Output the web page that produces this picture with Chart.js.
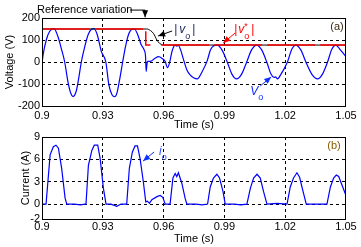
<!DOCTYPE html>
<html>
<head>
<meta charset="utf-8">
<script src="https://cdn.jsdelivr.net/npm/chart.js@4.4.1/dist/chart.umd.min.js"></script>
<style>
  html, body { margin: 0; padding: 0; background: #fff; }
  #wrap { position: relative; width: 361px; height: 247px; overflow: hidden; }
  canvas { position: absolute; left: 0; }
  #voltChart { top: 0; }
  #currChart { top: 128px; }
</style>
</head>
<body>
<div id="wrap">
  <canvas id="voltChart" width="361" height="132"></canvas>
  <canvas id="currChart" width="361" height="119"></canvas>
</div>
<script>
// axes
const timeTicks = [0.9, 0.93, 0.96, 0.99, 1.02, 1.05];
const timeTickLabels = ['0.9', '0.93', '0.96', '0.99', '1.02', '1.05'];
const voltTicks = [-200, -100, 0, 100, 200];
const currTicks = [-2, 0, 3, 6, 9];

// output voltage v_o (V)
const timeV = [0.9000, 0.9005, 0.9021, 0.9038, 0.9059, 0.9079, 0.9095, 0.9112, 0.9128, 0.9142,
  0.9153, 0.9169, 0.9181, 0.9194, 0.9211, 0.9227, 0.9244, 0.9257, 0.9273, 0.9293,
  0.9315, 0.9330, 0.9346, 0.9359, 0.9370, 0.9383, 0.9398, 0.9412, 0.9427, 0.9442,
  0.9456, 0.9472, 0.9489, 0.9504, 0.9511, 0.9514, 0.9518, 0.9521, 0.9534, 0.9558,
  0.9575, 0.9591, 0.9608, 0.9619, 0.9629, 0.9642, 0.9657, 0.9665, 0.9673, 0.9684,
  0.9698, 0.9715, 0.9731, 0.9748, 0.9766, 0.9790, 0.9815, 0.9831, 0.9848, 0.9865,
  0.9888, 0.9914, 0.9937, 0.9960, 0.9985, 1.0010, 1.0034, 1.0059, 1.0084, 1.0109,
  1.0130, 1.0145, 1.0152, 1.0162, 1.0175, 1.0211, 1.0232, 1.0252, 1.0277, 1.0302,
  1.0331, 1.0360, 1.0384, 1.0409, 1.0430, 1.0450, 1.0472, 1.0500];
const voltage = [-10, 30, 100, 140, 152, 115, 62, 0, -90, -142,
  -157, -132, -74, 0, 70, 123, 149, 152, 123, 47,
  0, -104, -150, -158, -140, -80, 0, 70, 125, 148,
  150, 125, 80, 55, 24, -43, -10, 3, 3, 17,
  24, 17, 2, -26, -5, 50, 77, 72, 75, 55,
  12, -36, -59, -72, -77, -44, 5, 55, 74, 77,
  55, 0, -55, -77, -55, 0, 55, 77, 55, 0,
  -55, -70, -68, -77, -62, 0, 57, 77, 55, 0,
  -55, -77, -55, 0, 58, 77, 55, 24];

// reference amplitude |v*_o| (V), null = gap
const timeRef = [0.9, 0.9512, 0.9512, 0.9535, 0.9550, 0.9588, 1.05];
const refVoltage = [150, 150, 77, 77, null, 77, 77];

// measured amplitude |v_o| (V)
const timeAmp = [0.9, 0.9517, 0.9535, 0.9550, 0.9567, 0.9580, 0.9595, 0.9615, 1.05];
const ampVoltage = [150, 150, 143, 130, 100, 85, 78, 77, 77];

// output current i_o (A)
const timeI = [0.9000, 0.9020, 0.9040, 0.9056, 0.9069, 0.9081, 0.9097, 0.9114, 0.9122, 0.9160,
  0.9190, 0.9212, 0.9217, 0.9229, 0.9246, 0.9258, 0.9275, 0.9287, 0.9303, 0.9316,
  0.9340, 0.9369, 0.9390, 0.9418, 0.9431, 0.9446, 0.9459, 0.9471, 0.9484, 0.9500,
  0.9512, 0.9520, 0.9530, 0.9542, 0.9567, 0.9583, 0.9596, 0.9608, 0.9632, 0.9646,
  0.9657, 0.9665, 0.9673, 0.9690, 0.9706, 0.9715, 0.9760, 0.9790, 0.9817, 0.9830,
  0.9846, 0.9863, 0.9876, 0.9893, 0.9904, 0.9950, 0.9980, 1.0011, 1.0028, 1.0044,
  1.0061, 1.0077, 1.0093, 1.0110, 1.0160, 1.0209, 1.0225, 1.0241, 1.0258, 1.0271,
  1.0288, 1.0304, 1.0350, 1.0406, 1.0423, 1.0439, 1.0452, 1.0464, 1.0481, 1.0500];
const current = [0, 0, 6.6, 7.7, 7.9, 7.5, 4.8, 0.8, 0, 0,
  -0.1, 0, 0, 5.2, 7.2, 7.9, 7.9, 6.1, 2.1, 0,
  0, -0.3, 0, 0, 4.8, 7.0, 7.8, 7.8, 6.1, 3.0,
  0.3, 0.4, 0.1, 0.6, 1.0, 1.15, 0.9, 0, 0, 3.5,
  4.1, 3.7, 4.2, 2.8, 0.8, 0, 0, -0.1, 0, 2.3,
  3.5, 4.0, 3.5, 1.7, 0, 0, -0.1, 0, 2.1, 3.5,
  4.0, 3.5, 1.7, 0, 0.1, 0, 2.3, 3.5, 4.2, 3.6,
  1.7, 0, 0, 0, 2.3, 3.5, 3.9, 3.7, 2.5, 1.15];

const FONT = '"Liberation Sans", Arial, sans-serif';
Chart.defaults.font.family = FONT;
Chart.defaults.font.size = 11;
Chart.defaults.color = '#000';

const pts = (xs, ys) => xs.map((x, i) => ({ x: x, y: ys[i] }));

// dashed grid only inside the box
const gridColor = ctx =>
  (ctx.index === 0 || ctx.index === ctx.scale.ticks.length - 1) ? 'rgba(0,0,0,0)' : '#000';

function drawLabel(ctx, x, y, parts, color) {
  ctx.save();
  ctx.fillStyle = color;
  ctx.textBaseline = 'middle';
  ctx.textAlign = 'left';
  let cx = x;
  parts.forEach(p => {
    const size = p.s ? 9 : (p.size || 12);
    ctx.font = (p.it ? 'italic ' : '') + size + 'px ' + FONT;
    const dy = p.s === 'sub' ? 6 : p.s === 'sup' ? -4 : 0;
    ctx.fillText(p.t, cx, y + dy);
    if (!p.stack) cx += ctx.measureText(p.t).width + (p.gap || 0);
  });
  ctx.restore();
}

function drawArrow(ctx, path, color) {
  ctx.save();
  ctx.strokeStyle = color;
  ctx.fillStyle = color;
  ctx.lineWidth = 1;
  ctx.beginPath();
  path.forEach((p, i) => i ? ctx.lineTo(p[0], p[1]) : ctx.moveTo(p[0], p[1]));
  ctx.stroke();
  const [x1, y1] = path[path.length - 2];
  const [x2, y2] = path[path.length - 1];
  const a = Math.atan2(y2 - y1, x2 - x1);
  ctx.beginPath();
  ctx.moveTo(x2, y2);
  ctx.lineTo(x2 - 7 * Math.cos(a) + 3 * Math.sin(a), y2 - 7 * Math.sin(a) - 3 * Math.cos(a));
  ctx.lineTo(x2 - 7 * Math.cos(a) - 3 * Math.sin(a), y2 - 7 * Math.sin(a) + 3 * Math.cos(a));
  ctx.closePath();
  ctx.fill();
  ctx.restore();
}

// box around the plot + annotations given in data units
function notesPlugin(notes) {
  return {
    id: 'notes',
    afterDraw(chart) {
      const { ctx, chartArea: a, scales } = chart;
      const P = (t, v) => [scales.x.getPixelForValue(t), scales.y.getPixelForValue(v)];
      ctx.save();
      ctx.strokeStyle = '#000';
      ctx.lineWidth = 1;
      ctx.strokeRect(a.left + 0.5, a.top + 0.5, a.right - a.left - 1, a.bottom - a.top);
      ctx.restore();
      notes.arrows.forEach(n => drawArrow(ctx, n.path.map(p => P(p[0], p[1])), n.color));
      notes.labels.forEach(n => {
        const [x, y] = P(n.at[0], n.at[1]);
        drawLabel(ctx, x, y, n.parts, n.color);
      });
    }
  };
}

function makeOptions(o) {
  return {
    responsive: false,
    animation: false,
    layout: { padding: { top: o.padTop, right: 15, left: 0, bottom: 0 } },
    plugins: { legend: { display: false }, tooltip: { enabled: false } },
    scales: {
      x: {
        type: 'linear', min: 0.9, max: 1.05,
        afterFit: s => { s.height = o.xHeight; },
        afterBuildTicks: s => { s.ticks = timeTicks.map(v => ({ value: v })); },
        ticks: { autoSkip: false, maxRotation: 0, padding: o.xPad, callback: (v, i) => timeTickLabels[i] },
        grid: { drawTicks: false, color: gridColor, lineWidth: 1 },
        border: { display: false, dash: [3, 3] },
        title: { display: true, text: 'Time (s)', padding: { top: 0, bottom: o.xTitlePad } }
      },
      y: {
        min: o.yTicks[0], max: o.yTicks[o.yTicks.length - 1],
        afterFit: s => { s.width = 42; },
        afterBuildTicks: s => { s.ticks = o.yTicks.map(v => ({ value: v })); },
        ticks: { autoSkip: false, padding: 2, callback: v => String(v) },
        grid: { drawTicks: false, color: gridColor, lineWidth: 1 },
        border: { display: false, dash: [3, 3] },
        title: { display: true, text: o.yTitle, padding: { top: o.yTitlePad, bottom: 0 } }
      }
    }
  };
}

new Chart(document.getElementById('voltChart'), {
  type: 'line',
  data: {
    datasets: [
      { data: pts(timeRef, refVoltage), borderColor: '#ff0000', borderWidth: 1.5, borderDash: [48, 5],
        pointRadius: 0, tension: 0, order: 0 },
      { data: pts(timeAmp, ampVoltage), borderColor: '#000', borderWidth: 1,
        pointRadius: 0, cubicInterpolationMode: 'monotone', order: 1 },
      { data: pts(timeV, voltage), borderColor: '#0000ff', borderWidth: 1.2,
        pointRadius: 0, cubicInterpolationMode: 'monotone', order: 2 }
    ]
  },
  options: makeOptions({ padTop: 18, xHeight: 26, xPad: 3, xTitlePad: 0.4,
    yTicks: voltTicks, yTitle: 'Voltage (V)', yTitlePad: 3.4 }),
  plugins: [notesPlugin({
    arrows: [
      { color: '#000', path: [[0.94346, 236], [0.95087, 236], [0.95087, 203]] },
      { color: '#000', path: [[0.96421, 141], [0.95729, 118]] },
      { color: '#ff0000', path: [[0.99532, 132], [0.98939, 86]] },
      { color: '#1030ff', path: [[1.00767, -109], [1.01310, -68]] }
    ],
    labels: [
      { at: [0.89753, 236], color: '#000', parts: [{ t: 'Reference variation', size: 11 }] },
      { at: [0.96520, 145], color: '#1f2a60',
        parts: [{ t: '|', gap: 2 }, { t: 'v', it: true }, { t: 'o', s: 'sub', gap: 2 }, { t: '|' }] },
      { at: [0.99483, 145], color: '#ff0000',
        parts: [{ t: '|', gap: 1 }, { t: 'v', it: true }, { t: '*', s: 'sup', stack: true },
                { t: 'o', s: 'sub', gap: 2 }, { t: '|' }] },
      { at: [1.04224, 157], color: '#3b2a10', parts: [{ t: '(a)', size: 11 }] },
      { at: [1.00273, -134], color: '#1030ff', parts: [{ t: 'V', it: true }, { t: 'o', s: 'sub' }] }
    ]
  })]
});

new Chart(document.getElementById('currChart'), {
  type: 'line',
  data: {
    datasets: [
      { data: pts(timeI, current), borderColor: '#0000ff', borderWidth: 1.2, pointRadius: 0, tension: 0 }
    ]
  },
  options: makeOptions({ padTop: 9, xHeight: 28, xPad: 1, xTitlePad: 1.9,
    yTicks: currTicks, yTitle: 'Current (A)', yTitlePad: 19.4 }),
  plugins: [notesPlugin({
    arrows: [
      { color: '#1030ff', path: [[0.95532, 6.99], [0.94988, 5.78]] }
    ],
    labels: [
      { at: [1.04076, 7.86], color: '#8a5c00', parts: [{ t: '(b)', size: 11 }] },
      { at: [0.95779, 7.05], color: '#3050ff', parts: [{ t: 'i', it: true }, { t: 'o', s: 'sub' }] }
    ]
  })]
});
</script>
</body>
</html>
